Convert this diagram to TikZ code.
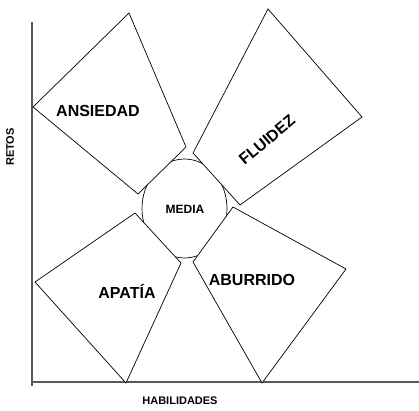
\documentclass[tikz,border=0pt]{standalone}
\usepackage{fontspec}
\setmainfont{Liberation Sans}

\begin{document}
\begin{tikzpicture}[x=1pt,y=-1pt,
    zone/.style={draw=black, fill=white, line width=0.7pt, line join=miter},
    axis/.style={draw=black!65, line width=1.3pt},
    zlabel/.style={font=\fontsize{16}{18}\selectfont\bfseries},
    alabel/.style={font=\fontsize{11}{13}\selectfont\bfseries}]
    \useasboundingbox (0,0) rectangle (419,410);
    % ejes
    \draw[axis] (32,22) -- (32,386); \draw[axis] (32,382) -- (419,382);
    \node[alabel, rotate=90] (retos) at (10,147) {RETOS};
    \node[alabel] (habil) at (180,401) {HABILIDADES};
    % centro
    \draw[line width=0.7pt] (184.5,208.5) ellipse (42.5 and 49.5);
    \node[font=\fontsize{12}{14}\selectfont\bfseries] (media) at
    (185,209) {MEDIA};
    % zonas
    \draw[zone] (129,13) -- (186,147) -- (138,194) -- (33,107) -- cycle;
    \draw[zone] (268,9) -- (362,117) -- (240,205) -- (193,153) -- cycle;
    \draw[zone] (135,213) -- (181,263) -- (126,383) -- (35,282) -- cycle;
    \draw[zone] (233,207) -- (346,269) -- (262,383) -- (193,262) -- cycle;
    \node[zlabel] (ansiedad) at (98,111) {ANSIEDAD};
    \node[zlabel, rotate=40] (fluidez) at (267,140) {FLUIDEZ};
    \node[zlabel] (apatia) at (127,291) {APATÍA};
    \node[zlabel] (aburrido) at (252,280) {ABURRIDO};
  \end{tikzpicture}
\end{document}
